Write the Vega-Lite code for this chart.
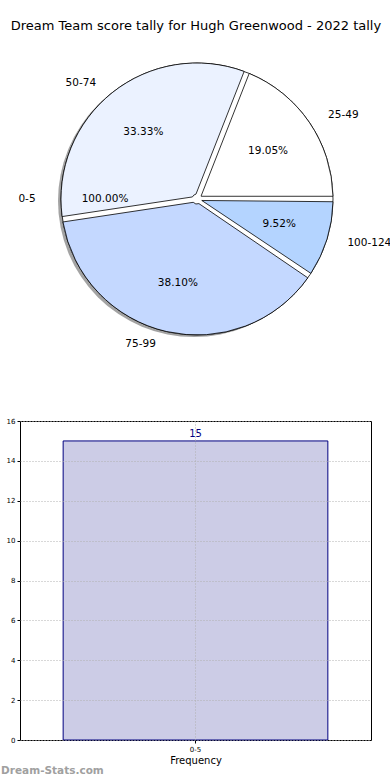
{
  "$schema": "https://vega.github.io/schema/vega-lite/v6.json",
  "padding": {"left": 0, "top": 20, "right": 0, "bottom": 0},
  "bounds": "flush",
  "spacing": 73,
  "title": {"text": "Dream Team score tally for Hugh Greenwood - 2022 tally", "fontSize": 13, "fontWeight": "normal", "font": "DejaVu Sans", "color": "black", "anchor": "middle", "offset": 17},
  "config": {"font": "DejaVu Sans", "view": {"stroke": null}},
  "datasets": {
    "single": [{"range": "0-5", "count": 15, "pct": "100.00%"}],
    "slices": [
      {"range": "25-49", "count": 4, "pct": "19.05%", "idx": 1},
      {"range": "50-74", "count": 7, "pct": "33.33%", "idx": 2},
      {"range": "75-99", "count": 8, "pct": "38.10%", "idx": 3},
      {"range": "100-124", "count": 2, "pct": "9.52%", "idx": 4}
    ],
    "bars": [{"range": "0-5", "freq": 15}]
  },
  "vconcat": [
    {
      "width": 354,
      "height": 298,
      "layer": [
        {
          "data": {"name": "single"},
          "encoding": {
            "theta": {"field": "count", "type": "quantitative", "stack": true, "scale": {"range": [1.5708, -4.7124]}},
            "detail": {"field": "range", "type": "nominal"}
          },
          "layer": [
            {"mark": {"type": "arc", "outerRadius": 136, "fill": "#666666", "opacity": 0.6, "xOffset": -3, "yOffset": 2}},
            {"mark": {"type": "arc", "outerRadius": 136, "fill": "white", "stroke": "black", "strokeWidth": 0.8}}
          ]
        },
        {
          "data": {"name": "slices"},
          "encoding": {
            "theta": {"field": "count", "type": "quantitative", "stack": true, "scale": {"range": [1.5708, -4.7124]}},
            "detail": {"field": "range", "type": "nominal"},
            "order": {"field": "idx", "type": "quantitative"}
          },
          "layer": [
            {
              "mark": {"type": "arc", "outerRadius": 136, "innerRadius": 5, "padAngle": 0.04, "stroke": "black", "strokeWidth": 0.8},
              "encoding": {
                "color": {"field": "range", "type": "nominal", "scale": {"domain": ["25-49", "50-74", "75-99", "100-124"], "range": ["#ffffff", "#ebf2ff", "#c4d8ff", "#b4d4ff"]}, "legend": null}
              }
            },
            {"mark": {"type": "text", "radius": 86, "fontSize": 10.5, "color": "black"}, "encoding": {"text": {"field": "pct", "type": "nominal"}}},
            {
              "mark": {"type": "text", "radius": 149, "fontSize": 10.5, "color": "black", "align": "left", "dx": 8},
              "encoding": {"text": {"condition": {"test": "datum.idx == 1 || datum.idx == 4", "field": "range", "type": "nominal"}, "value": ""}}
            },
            {
              "mark": {"type": "text", "radius": 149, "fontSize": 10.5, "color": "black", "align": "right", "dx": -8},
              "encoding": {"text": {"condition": {"test": "datum.idx == 2 || datum.idx == 3", "field": "range", "type": "nominal"}, "value": ""}}
            }
          ]
        },
        {
          "data": {"name": "single"},
          "encoding": {
            "theta": {"field": "count", "type": "quantitative", "stack": true, "scale": {"range": [1.5708, -4.7124]}},
            "detail": {"field": "range", "type": "nominal"}
          },
          "layer": [
            {"mark": {"type": "text", "radius": 92, "fontSize": 10.5, "color": "black"}, "encoding": {"text": {"field": "pct", "type": "nominal"}}},
            {"mark": {"type": "text", "radius": 170, "fontSize": 10.5, "color": "black"}, "encoding": {"text": {"field": "range", "type": "nominal"}}}
          ]
        }
      ],
      "resolve": {"scale": {"theta": "independent"}}
    },
    {
      "width": 351,
      "height": 319,
      "data": {"name": "bars"},
      "view": {"stroke": "black", "strokeWidth": 1},
      "title": {"text": "Dream-Stats.com", "orient": "bottom", "anchor": "start", "fontSize": 10.5, "fontWeight": "bold", "color": "#a0a0a0", "dx": -5, "offset": 1},
      "encoding": {
        "x": {
          "field": "range", "type": "nominal",
          "scale": {"paddingInner": 0, "paddingOuter": 0.163},
          "axis": {"title": "Frequency", "labelAngle": 0, "labelFontSize": 7, "titleFontSize": 10, "titleFontWeight": "normal", "grid": true, "gridDash": [1, 2], "gridColor": "#b0b0b0", "bandPosition": 0.5, "domain": false, "tickSize": 3, "tickColor": "black", "labelColor": "black", "titleColor": "black", "labelPadding": 2, "titlePadding": 3, "zindex": 1}
        },
        "y": {
          "field": "freq", "type": "quantitative",
          "scale": {"domain": [0, 16]},
          "axis": {"title": null, "values": [0, 2, 4, 6, 8, 10, 12, 14, 16], "labelFontSize": 7, "grid": true, "gridDash": [1, 2], "gridColor": "#b0b0b0", "domain": false, "tickSize": 3, "tickColor": "black", "labelColor": "black", "labelPadding": 2, "zindex": 1}
        }
      },
      "layer": [
        {"mark": {"type": "bar", "fill": "#ccccE6", "stroke": "#000080", "strokeWidth": 1}},
        {"mark": {"type": "text", "baseline": "bottom", "dy": -2, "color": "#000080", "fontSize": 10}, "encoding": {"text": {"field": "freq", "type": "quantitative"}}}
      ]
    }
  ]
}
